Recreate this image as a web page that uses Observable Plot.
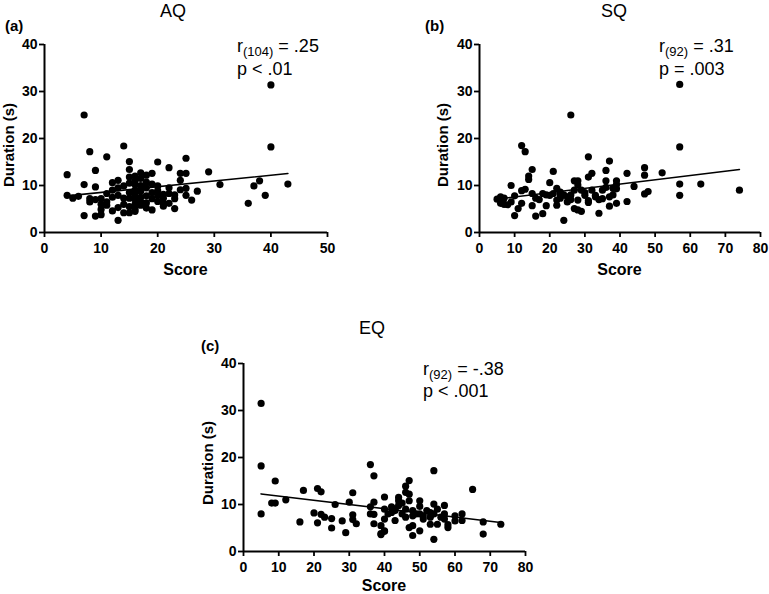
<!DOCTYPE html>
<html>
<head>
<meta charset="utf-8">
<script src="https://cdn.jsdelivr.net/npm/d3@7"></script>
<script src="https://cdn.jsdelivr.net/npm/@observablehq/plot@0.6"></script>
<style>
  body { margin: 0; background: #fff; }
  #wrap { position: relative; width: 769px; height: 594px; overflow: hidden; background: #fff;
          font-family: "Liberation Sans", Arial, sans-serif; color: #000; }
  #wrap > svg.panel { position: absolute; }
  #overlay { position: absolute; left: 0; top: 0; pointer-events: none; }
</style>
</head>
<body>
<div id="wrap"></div>
<script>
// ---------- data ----------
const yTicks = [0, 10, 20, 30, 40];
const aqTicks = [0, 10, 20, 30, 40, 50];
const sqTicks = [0, 10, 20, 30, 40, 50, 60, 70, 80];
const eqTicks = [0, 10, 20, 30, 40, 50, 60, 70, 80];

const panelTitles = ["AQ", "SQ", "EQ"];
const panelTags = ["(a)", "(b)", "(c)"];
const xLabel = "Score";
const yLabel = "Duration (s)";
const statN = ["(104)", "(92)", "(92)"];
const statR = [" = .25", " = .31", " = -.38"];
const statP = ["p < .01", "p = .003", "p < .001"];

// AQ scores and durations
const aqScore = [7,40,40,14,8,11,15,20,25,22,29,15,9,4,24,25,19,17,27,31,37,38,43,39,36,26,23,20,7,9,
  4,5,6,7,9,10,10,8,8,11,12,13,14,15,13,12,14,13,11,10,19,21,21,23,24,25,25,22,24,22,
  21,16,16,17,18,16,17,15,18,16,17,15,16,17,18,15,16,17,16,15,16,17,18,19,19,20,20,18,19,12,
  13,14,12,14,10,23,22,16,18,13,17,15,9,11,20,21];
const aqDur = [25.0,31.4,18.2,18.4,17.2,16.1,15.1,15.0,15.8,13.8,12.9,13.4,13.2,12.3,12.6,12.6,12.6,12.7,8.8,10.2,9.9,11.0,10.3,7.9,6.2,6.9,5.1,9.9,10.2,9.7,
  7.9,7.3,7.7,3.6,3.5,3.8,4.9,6.5,7.2,6.5,4.6,2.6,4.2,4.2,11.1,10.6,9.9,7.9,8.3,7.2,4.8,6.2,8.1,7.2,11.1,9.4,7.9,8.3,9.1,6.2,
  5.6,12.0,11.0,11.5,12.2,10.2,10.0,10.5,9.5,9.0,8.8,8.5,8.0,7.5,7.8,7.3,7.0,6.5,6.0,5.5,5.0,5.8,6.3,7.2,8.5,7.8,6.6,10.7,10.3,9.0,
  5.3,6.0,7.5,7.3,6.0,8.0,9.5,4.5,5.2,9.5,9.3,11.8,7.0,5.8,8.9,7.3];
const aqFitX = [4, 43];
const aqFitY = [7.8, 12.55];

// SQ scores and durations
const sqScore = [57,57,57,57,63,74,52,47,47,47,48,44,42,42,39,39,39,37,36,37,39,38,26,12,13,15,14,14,21,20,
  9,31,32,31,27,28,22,5,6,6,7,8,10,10,12,13,12,11,15,16,18,16,15,18,20,19,24,22,22,21,
  23,25,26,28,27,28,29,30,31,33,34,35,35,37,38,32,28,23,23,29,25,31,33,36,24,17,9,7,30,34,
  26,19,27,36];
const sqDur = [31.5,18.2,10.3,7.9,10.3,9.0,12.7,13.8,12.2,8.2,8.7,9.8,12.6,6.6,11.0,10.2,6.2,15.2,13.2,5.6,9.3,8.0,25.0,18.5,17.2,13.4,12.0,11.3,13.0,10.6,
  10.0,16.1,12.6,11.8,11.0,11.0,9.4,7.1,7.6,6.2,6.0,5.9,3.6,7.8,8.9,9.2,6.2,5.1,5.7,3.5,4.0,7.3,8.3,8.3,7.9,5.7,2.6,5.8,6.9,8.3,
  8.0,7.6,8.0,6.9,5.1,4.8,4.5,7.9,6.8,7.6,4.1,9.0,7.2,7.6,9.4,9.0,10.1,8.6,7.3,9.0,6.5,6.4,7.9,11.0,8.0,7.0,6.5,7.3,8.5,7.0,
  7.0,8.0,9.0,9.6];
const sqFitX = [5, 74];
const sqFitY = [7.1, 13.4];

// EQ scores and durations
const eqScore = [5,5,5,9,8,9,12,16,17,21,22,20,21,22,23,25,25,26,28,29,30,31,31,31,32,36,36,37,37,36,
  37,37,39,39,40,40,40,43,54,65,47,46,46,47,47,50,50,54,57,68,68,73,54,48,50,47,48,53,55,58,
  58,62,62,60,57,54,52,50,48,46,45,43,42,44,44,40,40,39,55,57,60,51,53,51,46,48,41,43,44,45,
  42,56,49,53];
const eqDur = [31.5,18.2,8.0,15.0,10.3,10.3,11.0,6.3,13.0,13.4,12.7,8.2,6.1,7.9,7.3,7.0,5.0,10.0,6.5,4.0,10.5,12.5,7.8,6.8,5.9,9.5,18.5,16.1,10.5,8.0,
  7.9,5.9,5.5,3.6,11.6,4.3,9.0,6.6,17.2,13.2,15.1,13.9,12.6,12.2,10.8,10.8,9.6,10.1,9.8,6.3,3.7,5.8,2.6,3.4,4.4,5.1,5.5,5.8,5.8,5.7,
  5.1,8.0,6.6,7.6,8.0,8.0,8.7,8.0,7.6,7.3,8.0,8.7,9.5,10.8,11.5,6.9,4.4,3.8,9.0,6.9,6.5,6.9,7.3,7.6,9.0,8.7,8.0,9.0,9.8,10.3,
  8.3,7.3,8.0,8.3];
const eqFitX = [5, 73.5];
const eqFitY = [12.25, 6.1];

// ---------- drawing ----------
const FONT = '"Liberation Sans", Arial, sans-serif';

function panel(xs, ys, fitX, fitY, xTicks, xMax, opts) {
  const pts = xs.map((x, i) => ({x, y: ys[i]}));
  const fit = fitX.map((x, i) => ({x, y: fitY[i]}));
  const svg = Plot.plot({
    width: opts.width,
    height: opts.height,
    marginLeft: 44,
    marginTop: 44,
    marginRight: opts.mr,
    marginBottom: opts.mb,
    style: {fontFamily: FONT, fontSize: "14px", color: "#000", background: "transparent", overflow: "visible"},
    x: {domain: [0, xMax], label: null},
    y: {domain: [0, 40], label: null},
    marks: [
      Plot.axisX({ticks: xTicks, tickSize: 5, tickPadding: 6, strokeWidth: 1.8, fontWeight: "bold", fontSize: 14, label: null}),
      Plot.axisY({ticks: yTicks, tickSize: 5, tickPadding: 2, strokeWidth: 1.8, fontWeight: "bold", fontSize: 14, label: null}),
      Plot.ruleX([0], {strokeWidth: 2, stroke: "#000"}),
      Plot.ruleY([0], {strokeWidth: 2, stroke: "#000"}),
      Plot.line(fit, {x: "x", y: "y", stroke: "#000", strokeWidth: 1.6}),
      Plot.dot(pts, {x: "x", y: "y", r: 3.6, fill: "#000"})
    ]
  });
  svg.classList.add("panel");
  svg.style.left = opts.left + "px";
  svg.style.top = opts.top + "px";
  return svg;
}

const wrap = document.getElementById("wrap");
wrap.appendChild(panel(aqScore, aqDur, aqFitX, aqFitY, aqTicks, 50, {left: 0, top: 0, width: 340, height: 290, mr: 13, mb: 58}));
wrap.appendChild(panel(sqScore, sqDur, sqFitX, sqFitY, sqTicks, 80, {left: 435, top: 0, width: 334, height: 290, mr: 9, mb: 58}));
wrap.appendChild(panel(eqScore, eqDur, eqFitX, eqFitY, eqTicks, 80, {left: 199, top: 319, width: 340, height: 275, mr: 14, mb: 43}));

// ---------- text overlay ----------
const NS = "http://www.w3.org/2000/svg";
const ov = document.createElementNS(NS, "svg");
ov.setAttribute("id", "overlay");
ov.setAttribute("width", 769);
ov.setAttribute("height", 594);
ov.style.fontFamily = FONT;
wrap.appendChild(ov);

function txt(x, y, s, attrs = {}) {
  const t = document.createElementNS(NS, "text");
  t.setAttribute("x", x);
  t.setAttribute("y", y);
  for (const k in attrs) t.setAttribute(k, attrs[k]);
  t.textContent = s;
  ov.appendChild(t);
  return t;
}

const layout = [
  {titleX: 173, titleY: 17, tagX: 5, tagY: 31, annX: 237, rY: 52, pY: 75, scoreX: 185.5, scoreY: 275, durX: 14, durY: 145},
  {titleX: 614, titleY: 17, tagX: 425, tagY: 31, annX: 659, rY: 52, pY: 75, scoreX: 619.5, scoreY: 275, durX: 448, durY: 145},
  {titleX: 372, titleY: 334, tagX: 201, tagY: 351, annX: 423, rY: 375, pY: 397, scoreX: 384, scoreY: 591, durX: 213, durY: 463}
];

layout.forEach((L, i) => {
  txt(L.titleX, L.titleY, panelTitles[i], {"text-anchor": "middle", "font-size": 18});
  txt(L.tagX, L.tagY, panelTags[i], {"font-size": 15, "font-weight": "bold"});
  const r = txt(L.annX, L.rY, "r", {"font-size": 18});
  const sub = document.createElementNS(NS, "tspan");
  sub.setAttribute("font-size", 13);
  sub.setAttribute("dy", 4);
  sub.textContent = statN[i];
  r.appendChild(sub);
  const rest = document.createElementNS(NS, "tspan");
  rest.setAttribute("dy", -4);
  rest.textContent = statR[i];
  r.appendChild(rest);
  txt(L.annX, L.pY, statP[i], {"font-size": 18});
  txt(L.scoreX, L.scoreY, xLabel, {"text-anchor": "middle", "font-size": 16, "font-weight": "bold"});
  txt(0, 0, yLabel, {"text-anchor": "middle", "font-size": 15, "font-weight": "bold",
    transform: `translate(${L.durX},${L.durY}) rotate(-90)`});
});
</script>
</body>
</html>
